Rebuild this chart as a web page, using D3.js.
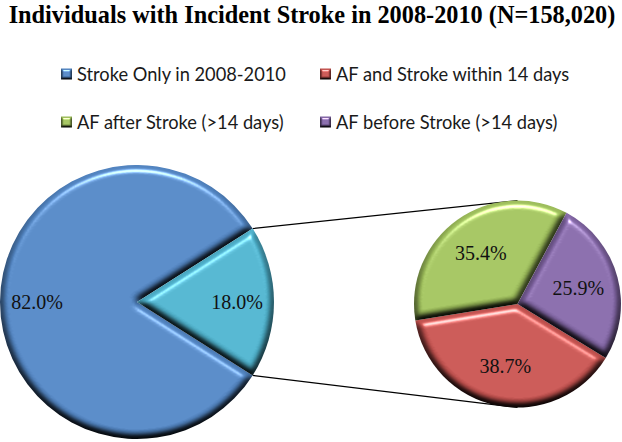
<!DOCTYPE html>
<html>
<head>
<meta charset="utf-8">
<script src="https://cdn.jsdelivr.net/npm/d3@7"></script>
<style>
  html, body { margin: 0; padding: 0; background: #fff; }
  svg { display: block; }
</style>
</head>
<body>
<svg id="chart" width="622" height="442"></svg>
<script>
// data
const title = 'Individuals with Incident Stroke in 2008-2010 (N=158,020)';
const mainValues = [82.0, 18.0]; // stroke only, AF related (split out)
const mainColors = ['#4f81bd', '#4bacc6'];
const subValues = [38.7, 35.4, 25.9]; // within 14 days, after, before
const subColors = ['#c0504d', '#9bbb59', '#8064a2'];
const legendLabels = [
  'Stroke Only in 2008-2010',
  'AF and Stroke within 14 days',
  'AF after Stroke (>14 days)',
  'AF before Stroke (>14 days)',
];
const legendColors = ['#4f81bd', '#c0504d', '#9bbb59', '#8064a2'];

const svg = d3.select('#chart');
const defs = svg.append('defs');

// bevel-ish filter (office "circle" bevel look)
function bevel(id, blur, scale) {
  const f = defs
    .append('filter')
    .attr('id', id)
    .attr('x', '-10%')
    .attr('y', '-10%')
    .attr('width', '120%')
    .attr('height', '120%')
    .attr('color-interpolation-filters', 'sRGB');
  f.append('feGaussianBlur').attr('in', 'SourceAlpha').attr('stdDeviation', blur).attr('result', 'blur');
  f.append('feDiffuseLighting')
    .attr('in', 'blur')
    .attr('surfaceScale', scale)
    .attr('diffuseConstant', 1.155)
    .attr('lighting-color', '#fff')
    .attr('result', 'diff')
    .append('feDistantLight')
    .attr('azimuth', 270)
    .attr('elevation', 60);
  f.append('feComposite')
    .attr('in', 'SourceGraphic')
    .attr('in2', 'diff')
    .attr('operator', 'arithmetic')
    .attr('k1', 1)
    .attr('k2', 0)
    .attr('k3', 0)
    .attr('k4', 0)
    .attr('result', 'shaded');
  f.append('feSpecularLighting')
    .attr('in', 'blur')
    .attr('surfaceScale', scale)
    .attr('specularConstant', 0.6)
    .attr('specularExponent', 25)
    .attr('lighting-color', '#fff')
    .attr('result', 'spec')
    .append('feDistantLight')
    .attr('azimuth', 270)
    .attr('elevation', 40);
  f.append('feComposite').attr('in', 'spec').attr('in2', 'SourceAlpha').attr('operator', 'in').attr('result', 'specIn');
  f.append('feComposite')
    .attr('in', 'shaded')
    .attr('in2', 'specIn')
    .attr('operator', 'arithmetic')
    .attr('k1', 0)
    .attr('k2', 1)
    .attr('k3', 1)
    .attr('k4', 0);
}
bevel('bevel', 3.5, 7);
bevel('bevelSmall', 1, 3);

// title
const titleText = svg
  .append('text')
  .attr('x', 312)
  .attr('y', 23)
  .attr('text-anchor', 'middle')
  .attr('font-family', '"Liberation Serif", "Times New Roman", serif')
  .attr('font-weight', 'bold')
  .attr('font-size', 27)
  .attr('fill', '#000')
  .text(title);
// fit title to its width in the original
const tw = titleText.node().getComputedTextLength();
titleText.attr('font-size', (27 * 607) / tw);

// legend
const legendFont = '"Lato", "Liberation Sans", sans-serif';
const probe = svg.append('text').attr('font-family', legendFont).attr('font-size', 100).text(legendLabels[0]);
const legendSize = (100 * 209) / probe.node().getComputedTextLength();
probe.remove();
const colX = [61, 320];
const rowY = [74, 122];
const legend = svg
  .append('g')
  .selectAll('g')
  .data(legendLabels)
  .join('g')
  .attr('transform', (d, i) => `translate(${colX[i % 2]},${rowY[Math.floor(i / 2)]})`);
legend
  .append('rect')
  .attr('x', 0)
  .attr('y', -5.5)
  .attr('width', 11)
  .attr('height', 11)
  .attr('fill', (d, i) => legendColors[i])
  .attr('filter', 'url(#bevelSmall)');
legend
  .append('text')
  .attr('x', 16)
  .attr('dy', '0.36em')
  .attr('font-family', legendFont)
  .attr('font-size', legendSize)
  .attr('fill', '#1a1a1a')
  .text((d) => d);

// pies
const main = { cx: 137, cy: 302, r: 137 };
const sub = { cx: 517.5, cy: 304, r: 103.5 };
const otherShare = mainValues[1] / d3.sum(mainValues);
// split-out slice centred on the right side
const mainStart = Math.PI / 2 + otherShare * Math.PI - 2 * Math.PI;
const subStart = (121.5 * Math.PI) / 180;

const mainArcs = d3.pie().sort(null).startAngle(mainStart).endAngle(mainStart + 2 * Math.PI)(mainValues);
const subArcs = d3.pie().sort(null).startAngle(subStart).endAngle(subStart + 2 * Math.PI)(subValues);

// connector lines from the split slice to the second pie
const other = mainArcs[1];
const corner = (a) => [main.cx + main.r * Math.sin(a), main.cy - main.r * Math.cos(a)];
const lines = [
  [corner(other.startAngle), [sub.cx, sub.cy - sub.r]],
  [corner(other.endAngle), [sub.cx, sub.cy + sub.r]],
];
svg
  .append('g')
  .selectAll('path')
  .data(lines)
  .join('path')
  .attr('d', d3.line())
  .attr('stroke', '#000')
  .attr('stroke-width', 1.2)
  .attr('fill', 'none');

const fmt = (v) => `${v.toFixed(1)}%`;
const labelFont = '"Liberation Serif", "Times New Roman", serif';

function drawPie(arcs, colors, pos, labelFrac) {
  const g = svg.append('g').attr('transform', `translate(${pos.cx},${pos.cy})`);
  const arc = d3.arc().innerRadius(0).outerRadius(pos.r);
  const labelArc = d3
    .arc()
    .innerRadius(pos.r * labelFrac)
    .outerRadius(pos.r * labelFrac);
  g.selectAll('path')
    .data(arcs)
    .join('path')
    .attr('d', arc)
    .attr('fill', (d, i) => colors[i])
    .attr('filter', 'url(#bevel)');
  g.selectAll('text')
    .data(arcs)
    .join('text')
    .attr('transform', (d) => `translate(${labelArc.centroid(d)})`)
    .attr('text-anchor', 'middle')
    .attr('dy', '0.35em')
    .attr('font-family', labelFont)
    .attr('font-size', 20)
    .attr('fill', '#111')
    .text((d) => fmt(d.data));
}

drawPie(mainArcs, mainColors, main, 0.73);
drawPie(subArcs, subColors, sub, 0.61);
</script>
</body>
</html>
